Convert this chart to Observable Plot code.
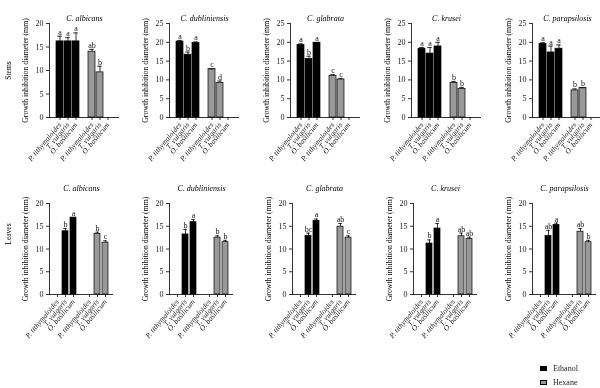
<!DOCTYPE html>
<html>
<head>
<meta charset="utf-8">
<script src="https://cdn.jsdelivr.net/npm/d3@7"></script>
<script src="https://cdn.jsdelivr.net/npm/@observablehq/plot@0.6"></script>
<style>
  html, body { margin: 0; padding: 0; background: #fff; }
  #wrap { position: relative; width: 600px; height: 388px; overflow: hidden; font-family: "Liberation Serif", serif; }
  .panel { position: absolute; will-change: transform; }
  .leg { position: absolute; font-size: 8px; line-height: 10px; color: #222; will-change: transform; }
  .sw { position: absolute; width: 7px; height: 5px; box-sizing: border-box; border: 0.8px solid #000; }
</style>
</head>
<body>
<div id="wrap"></div>
<script>
// ---- data ----
const species = ["C. albicans", "C. dubliniensis", "C. glabrata", "C. krusei", "C. parapsilosis"];
const plants = ["P. tithymaloides", "T. vulgaris", "O. basilicum"];
const solvents = ["Ethanol", "Hexane"];
const rowNames = ["Stems", "Leaves"];
const stemsYMax = [20, 25, 25, 25, 25];
const leavesYMax = [20, 20, 20, 20, 20];
const yTicks20 = [0, 5, 10, 15, 20];
const yTicks25 = [0, 5, 10, 15, 20, 25];

// stems: [P. tithymaloides, T. vulgaris, O. basilicum] per species
const stemsEthanol    = [[16.2, 16.2, 16.2], [20.2, 16.7, 19.8], [19.3, 15.6, 19.9], [18.3, 17.0, 18.9], [19.6, 17.3, 18.3]];
const stemsEthanolErr = [[1.1, 0.8, 1.8],    [0.3, 0.7, 0.3],    [0.3, 0.7, 0.0],    [0.3, 1.6, 1.1],    [0.3, 1.7, 1.0]];
const stemsEthanolLet = [["a", "a", "a"],    ["a", "b", "a"],    ["a", "b", "a"],    ["a", "a", "a"],    ["a", "a", "a"]];
const stemsHexane     = [[14.0, 9.6, 0],     [12.9, 9.2, 0],     [11.1, 10.1, 0],    [9.2, 7.6, 0],      [7.2, 7.9, 0]];
const stemsHexaneErr  = [[0.5, 1.3, 0],      [0.0, 0.5, 0],      [0.3, 0.3, 0],      [0.4, 0.4, 0],      [0.4, 0.0, 0]];
const stemsHexaneLet  = [["ab", "b", ""],    ["c", "d", ""],     ["c", "c", ""],     ["b", "b", ""],     ["b", "b", ""]];

const leavesEthanol    = [[0, 13.9, 16.9],  [0, 13.2, 15.9],  [0, 12.9, 16.2],  [0, 11.2, 14.5],  [0, 12.9, 15.3]];
const leavesEthanolErr = [[0, 0.6, 0.0],    [0, 1.1, 0.6],    [0, 0.6, 0.4],    [0, 0.8, 1.1],    [0, 1.2, 0.4]];
const leavesEthanolLet = [["", "b", "a"],   ["", "b", "a"],   ["", "bc", "a"],  ["", "b", "a"],   ["", "ab", "a"]];
const leavesHexane     = [[0, 13.3, 11.4],  [0, 12.5, 11.5],  [0, 14.9, 12.5],  [0, 12.8, 12.2],  [0, 13.8, 11.5]];
const leavesHexaneErr  = [[0, 0.4, 0.4],    [0, 0.4, 0.4],    [0, 0.7, 0.4],    [0, 0.7, 0.4],    [0, 0.7, 0.4]];
const leavesHexaneLet  = [["", "b", "c"],   ["", "b", "b"],   ["", "ab", "c"],  ["", "ab", "ab"], ["", "ab", "b"]];

// ---- layout ----
const keys = ["P1", "T1", "O1", "gap", "P2", "T2", "O2"];
const tickKeys = ["P1", "T1", "O1", "P2", "T2", "O2"];
const keyLabel = {P1: plants[0], T1: plants[1], O1: plants[2], P2: plants[0], T2: plants[1], O2: plants[2]};
const axisLeft = [[49, 169, 290, 411, 532], [49, 169, 292, 413, 532]];
const rows = [
  {top: 0, plotH: 94, frameW: 70, insetL: 4, insetR: 5, pad: 0.18, titleDy: -8, yMax: stemsYMax,
   eth: stemsEthanol, ethErr: stemsEthanolErr, ethLet: stemsEthanolLet,
   hex: stemsHexane, hexErr: stemsHexaneErr, hexLet: stemsHexaneLet, rowDy: 0},
  {top: 180, plotH: 91, frameW: 64, insetL: 2, insetR: 2, pad: 0.2, titleDy: -18, yMax: leavesYMax,
   eth: leavesEthanol, ethErr: leavesEthanolErr, ethLet: leavesEthanolLet,
   hex: leavesHexane, hexErr: leavesHexaneErr, hexLet: leavesHexaneLet, rowDy: -15}
];

const wrap = document.getElementById("wrap");
const ML = 49, MT = 23, MB = 60, W = 125;
const font = "Liberation Serif";

rows.forEach((row, r) => {
  species.forEach((sp, s) => {
    const data = [];
    plants.forEach((p, i) => {
      data.push({key: keys[i], solvent: solvents[0], value: row.eth[s][i], err: row.ethErr[s][i], letter: row.ethLet[s][i]});
      data.push({key: keys[i + 4], solvent: solvents[1], value: row.hex[s][i], err: row.hexErr[s][i], letter: row.hexLet[s][i]});
    });
    const bars = data.filter(d => d.value > 0);
    const yMax = row.yMax[s];
    const marks = [
      Plot.barY(bars, {x: "key", y: "value", fill: "solvent", stroke: "#000", strokeWidth: 0.7}),
      Plot.ruleX(bars.filter(d => d.err > 0), {x: "key", y1: "value", y2: d => d.value + d.err, stroke: "#000", strokeWidth: 0.8}),
      Plot.tickY(bars, {x: "key", y: d => d.value + d.err, stroke: "#000", strokeWidth: 0.8, insetLeft: 1.2, insetRight: 1.2}),
      Plot.text(bars, {x: "key", y: d => d.value + d.err, text: "letter", dy: -1.5, lineAnchor: "bottom", fontSize: 8, fontFamily: font, fill: "#111"}),
      Plot.ruleY([0], {stroke: "#000", strokeWidth: 0.8}),
      Plot.frame({anchor: "left", stroke: "#000", strokeWidth: 0.8}),
      Plot.axisY({ticks: yMax === 25 ? yTicks25 : yTicks20, tickSize: 3, tickPadding: 3, label: null, fontSize: 8, fontFamily: font, stroke: "#000", strokeWidth: 0.8}),
      Plot.axisX({ticks: tickKeys, tickFormat: k => keyLabel[k], tickRotate: -50, tickSize: 3, tickPadding: 3, label: null, fontSize: 7.5, fontStyle: "italic", fontFamily: font, stroke: "#000", strokeWidth: 0.8}),
      Plot.text([sp], {frameAnchor: "top", dy: row.titleDy, fontSize: 8, fontStyle: "italic", fontFamily: font, fill: "black"}),
      Plot.text(["Growth inhibition diameter (mm)"], {frameAnchor: "left", textAnchor: "middle", rotate: -90, dx: -24, fontSize: 7.8, fontFamily: font, fill: "black"})
    ];
    if (s === 0) {
      marks.push(Plot.text([rowNames[r]], {frameAnchor: "left", textAnchor: "middle", rotate: -90, dx: -41, dy: row.rowDy, fontSize: 7.5, fontFamily: font, fill: "black"}));
    }
    const chart = Plot.plot({
      width: W,
      height: MT + row.plotH + MB,
      marginLeft: ML,
      marginRight: W - ML - row.frameW,
      marginTop: MT,
      marginBottom: MB,
      style: {background: "transparent", overflow: "visible", fontFamily: font, fontSize: "8px", color: "#222"},
      x: {domain: keys, padding: row.pad, insetLeft: row.insetL, insetRight: row.insetR, axis: null},
      y: {domain: [0, yMax], axis: null},
      color: {domain: solvents, range: ["#000", "#999"]},
      marks
    });
    chart.classList.add("panel");
    chart.style.left = (axisLeft[r][s] - ML) + "px";
    chart.style.top = row.top + "px";
    wrap.appendChild(chart);
  });
});

// legend
const legendItems = [
  {label: solvents[0], color: "#000", top: 366},
  {label: solvents[1], color: "#999", top: 380}
];
legendItems.forEach(it => {
  const sw = document.createElement("div");
  sw.className = "sw";
  sw.style.left = "540px"; sw.style.top = it.top + "px"; sw.style.background = it.color;
  wrap.appendChild(sw);
  const t = document.createElement("div");
  t.className = "leg";
  t.style.left = "553px"; t.style.top = (it.top - 2.5) + "px";
  t.textContent = it.label;
  wrap.appendChild(t);
});
</script>
</body>
</html>
